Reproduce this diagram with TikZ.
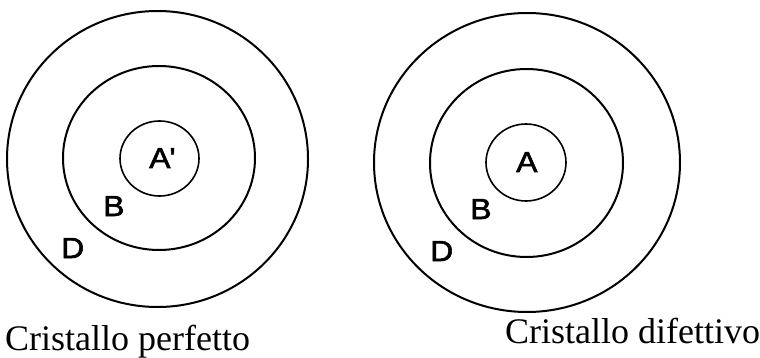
\documentclass[tikz,border=0pt]{standalone}
\usepackage{fontspec}
\setmainfont{Liberation Serif}
\newfontfamily\lblfont[FakeBold=2,FakeStretch=1.1]{Liberation Sans}
\begin{document}
\begin{tikzpicture}[x=1pt,y=-1pt,
  ring/.style={draw=black,line width=2pt},
  lbl/.style={anchor=base west,inner sep=0pt,font=\lblfont\fontsize{29}{31}\selectfont},
  captext/.style={anchor=base west,inner sep=0pt,font=\fontsize{36}{40}\selectfont}]
\useasboundingbox (0,0) rectangle (760,358);
% left
\draw[ring] (157.5,159) ellipse [x radius=150.5,y radius=148];
\draw[ring] (159,158) ellipse [x radius=96,y radius=92];
\draw[ring,line width=1.6pt] (159.5,158.5) ellipse [x radius=39.5,y radius=37.5];
\node[lbl] (a1) at (149,168) {A\kern-1pt'};
\node[lbl] (b1) at (103,216) {B};
\node[lbl] (d1) at (61,258) {D};
% right
\draw[ring] (527,162.5) ellipse [x radius=153,y radius=149.5];
\draw[ring] (526.5,163) ellipse [x radius=96.5,y radius=94];
\draw[ring,line width=1.6pt] (526,162.5) ellipse [x radius=40,y radius=38.5];
\node[lbl] (a2) at (516,172) {A};
\node[lbl] (b2) at (470,219) {B};
\node[lbl] (d2) at (430,261) {D};
% captions
\node[captext] (c1) at (5,350) {Cristallo perfetto};
\node[captext] (c2) at (505,343) {Cristallo difettivo};
\end{tikzpicture}
\end{document}
